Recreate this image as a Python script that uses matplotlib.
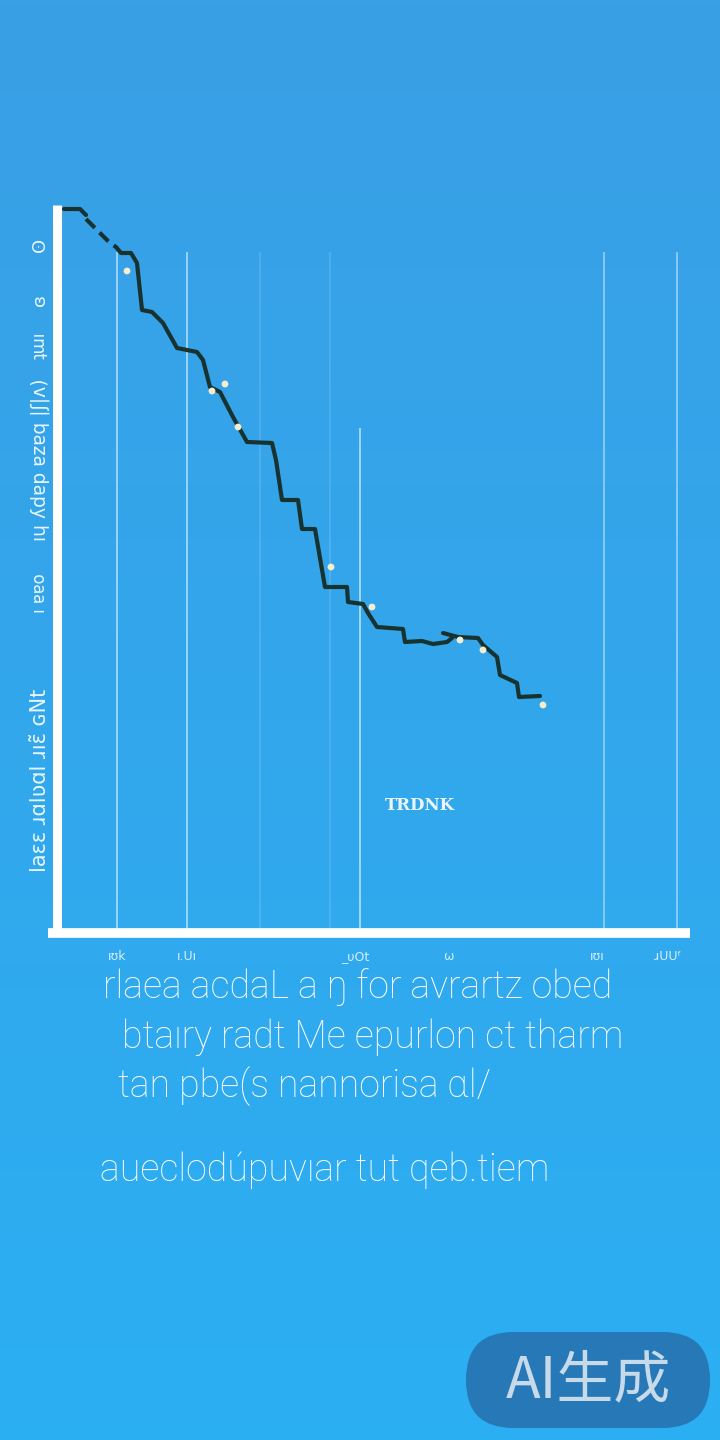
import numpy as np
import matplotlib
matplotlib.use("Agg")
import matplotlib.pyplot as plt
from matplotlib.patches import FancyBboxPatch

# ---------------- data ----------------
seg_a_x = [0.7, 2.3, 2.9]
seg_a_y = [72.4, 72.4, 71.8]
seg_b_x = [2.9, 5.3, 5.9, 6.4]
seg_b_y = [71.4, 69.0, 68.6, 68.0]
seg_c_x = [6.4, 7.4, 8.0, 8.5, 9.5, 10.6, 12.0, 14.0, 14.6, 15.3, 16.3, 17.6, 19.0,
           21.5, 21.9, 22.5, 24.1, 24.5, 25.8, 26.8, 29.0, 29.1, 30.6, 31.1, 32.0,
           34.6, 34.8, 36.5, 37.6, 39.0, 39.5]
seg_c_y = [68.0, 68.0, 67.0, 62.3, 62.1, 61.0, 58.5, 58.1, 57.3, 54.6, 54.1, 51.6, 49.1,
           49.0, 47.3, 43.3, 43.3, 40.4, 40.4, 34.6, 34.6, 33.1, 32.9, 32.0, 30.6,
           30.4, 29.1, 29.2, 28.9, 29.1, 29.5]
seg_d_x = [38.6, 40.1, 42.1, 42.6, 44.0, 44.3, 46.0, 46.2, 48.3]
seg_d_y = [30.0, 29.6, 29.5, 28.8, 27.6, 25.8, 25.0, 23.6, 23.7]

dots_x = [7.0, 15.5, 16.8, 18.1, 27.4, 31.5, 40.3, 42.6, 48.6]
dots_y = [66.2, 54.2, 54.9, 50.6, 36.6, 32.6, 29.3, 28.3, 22.8]

grid_x = [6.0, 13.0, 20.3, 27.3, 30.3, 54.7, 62.0]
grid_top = [68.1, 68.1, 68.1, 68.1, 50.5, 68.1, 68.1]
grid_alpha = [0.75, 0.75, 0.18, 0.18, 0.8, 0.6, 0.6]

xtick_pos = [6.0, 13.0, 29.8, 39.1, 54.0, 61.1]
xtick_labels = ["ıʊk", "ı.Uı", "_υOt", "ω", "ıʊı", "ɹUUᶠ"]

ylab_pos = [245, 300, 345, 460, 593, 780]
ylab_text = ["ʘ", "ɞ", "ʇɯı", "ıɥ ʎdɐp ɐzɐq |ʃ|ʌ)", "ı ɐɐo", "laɛɛ ɹɑlʋɑl ɹıɛ̃ ɢNt"]
ylab_size = [13, 13, 12, 13.5, 12, 15]

para_lines = ["rlaea acdaL a ŋ for avrartz obed",
              "btaıry radt Me epurlon ct tharm",
              "tan pbe(s nannorisa ɑl/",
              "aueclodúpuvıar tut qeb.tiem"]
para_x = [103, 122, 118, 100]
para_y = [987, 1037, 1086, 1170]

center_label = "TRDNK"
badge_text = "AI生成"

# ---------------- figure ----------------
W, H = 720, 1440
fig = plt.figure(figsize=(W / 100, H / 100), dpi=100)

# background gradient + pixel-space overlay
bg = fig.add_axes([0, 0, 1, 1])
bg.set_axis_off()
top = np.array([0x3A, 0x9F, 0xE5]) / 255
bot = np.array([0x2B, 0xAF, 0xF3]) / 255
t = np.linspace(0, 1, 256)[:, None]
grad = top[None, :] * (1 - t) + bot[None, :] * t
img = np.repeat(grad[:, None, :], 8, axis=1)
bg.imshow(img, aspect="auto", extent=[0, W, H, 0])
bg.set_xlim(0, W)
bg.set_ylim(H, 0)

def fx(px):
    return px / W

def fy(py):
    return 1 - py / H

# main axes: left edge at x=57px, bottom at y=933px, top at 205px, right at 690px
ax = fig.add_axes([fx(57), fy(933), (690 - 57) / W, (933 - 205) / H])
ax.set_xlim(0, 63.3)
ax.set_ylim(0, 72.8)
ax.patch.set_alpha(0)
for s in ax.spines.values():
    s.set_visible(False)
ax.set_yticks([])
ax.set_xticks(xtick_pos)
ax.set_xticklabels(xtick_labels, color="#D6EEFF", fontsize=9)
ax.tick_params(axis="x", length=0, pad=12)

# grid lines
for gx, gt, ga in zip(grid_x, grid_top, grid_alpha):
    ax.vlines(gx, 0, gt, color="#CFF0FF", lw=1.2, alpha=ga, zorder=1)

# axes lines (white, thick)
ax.plot([0, 0], [0, 72.8], color="white", lw=6.5, solid_capstyle="butt",
        clip_on=False, zorder=3)
ax.plot([-0.9, 63.3], [0, 0], color="white", lw=7, solid_capstyle="butt",
        clip_on=False, zorder=3)

lc = "#18332F"
ax.plot(seg_a_x, seg_a_y, color=lc, lw=3.0, zorder=4, solid_capstyle="round")
ax.plot(seg_b_x, seg_b_y, color=lc, lw=3.0, zorder=4, ls=(0, (3, 1.6)))
ax.plot(seg_c_x, seg_c_y, color=lc, lw=3.0, zorder=4, solid_joinstyle="round",
        solid_capstyle="round")
ax.plot(seg_d_x, seg_d_y, color=lc, lw=3.0, zorder=4, solid_joinstyle="round",
        solid_capstyle="round")
ax.scatter(dots_x, dots_y, s=24, color="#F6EDCF", edgecolor="none", zorder=5)

ax.text(36.3, 12.7, center_label, color="white", fontsize=12, fontweight="bold",
        family="DejaVu Serif", ha="center", va="center", zorder=5, alpha=0.9)

# rotated y labels
for yp, txt, fs in zip(ylab_pos, ylab_text, ylab_size):
    fig.text(fx(40), fy(yp), txt, rotation=90, color="#E8F6FF", fontsize=fs,
             ha="center", va="center")

# paragraph text
for txt, px, py in zip(para_lines, para_x, para_y):
    fig.text(fx(px), fy(py), txt, color="white", fontsize=27,
             family=["Roboto", "DejaVu Sans"], fontweight="light",
             ha="left", va="center")

# badge (pixel coordinates on the overlay axes)
bx0, bx1, by0, by1 = 466, 710, 1332, 1428
r = (by1 - by0) / 2
badge = FancyBboxPatch((bx0, by0), bx1 - bx0, by1 - by0,
                       boxstyle=f"round,pad=0,rounding_size={r - 0.5}",
                       facecolor="#2670AC", alpha=0.85, edgecolor="none")
bg.add_patch(badge)
bg.text(588, 1381, badge_text, color="#C6DAEA", fontsize=41,
        family=["Noto Sans CJK SC", "DejaVu Sans"], ha="center", va="center")

fig.savefig("out.png", dpi=100)
